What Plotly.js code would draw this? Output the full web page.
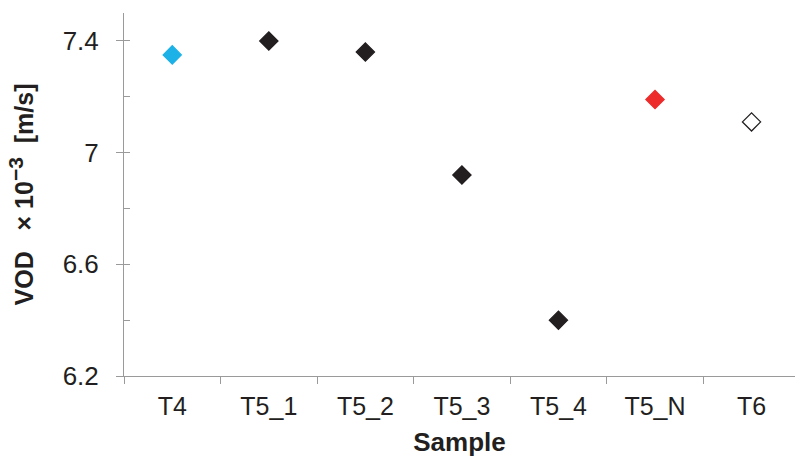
<!DOCTYPE html>
<html><head><meta charset="utf-8">
<script src="https://cdn.plot.ly/plotly-3.0.1.min.js"></script>
<style>body{margin:0;background:#fff}#c{width:795px;height:457px}</style>
</head><body><div id="c"></div>
<script>
const samples = ["T4","T5_1","T5_2","T5_3","T5_4","T5_N","T6"];
const vod = [7.35, 7.40, 7.36, 6.92, 6.40, 7.19, 7.11];
const fillColors = ["#1cb1e7","#231f20","#231f20","#231f20","#231f20","#ed2b2b","#ffffff"];
const lineColors = ["#1cb1e7","#231f20","#231f20","#231f20","#231f20","#ed2b2b","#231f20"];
const yTicks = [6.2, 6.6, 7, 7.4];

const txt = "#231f20", ax = "#9a9a9a", fam = "Liberation Sans, Arial, sans-serif";
const data = [{
  type: "scatter", mode: "markers", x: samples, y: vod,
  marker: {symbol: "diamond", size: 14, color: fillColors, line: {color: lineColors, width: 1.3}},
  cliponaxis: false, hoverinfo: "x+y"
}, {
  type: "scatter", mode: "markers", x: samples, y: vod, yaxis: "y2",
  marker: {opacity: 0}, hoverinfo: "skip", showlegend: false
}];
const ytitle = "<b>VOD\u00a0\u00a0\u00a0×\u00a010<sup><span style=\"font-size:21px\">−3</span></sup>\u00a0\u00a0[m/s]</b>";
const layout = {
  width: 795, height: 457, showlegend: false,
  margin: {l: 124, r: 0, t: 13, b: 81},
  paper_bgcolor: "#fff", plot_bgcolor: "#fff", font: {family: fam, size: 25, color: txt},
  xaxis: {
    type: "category", range: [-0.5, 6.45], tickson: "boundaries",
    ticks: "outside", ticklen: 7, tickcolor: ax, tickwidth: 1,
    showline: true, linecolor: ax, linewidth: 1, showgrid: false, zeroline: false,
    tickfont: {family: fam, size: 25, color: txt}, ticklabelstandoff: 8,
    title: {text: "<b>Sample</b>", font: {family: fam, size: 26, color: txt}, standoff: 14}
  },
  yaxis: {
    range: [6.2, 7.5], tickvals: yTicks, ticktext: yTicks.map(String),
    ticks: "outside", ticklen: 7, tickcolor: ax, tickwidth: 1,
    showline: true, linecolor: ax, linewidth: 1, showgrid: false, zeroline: false,
    tickfont: {family: fam, size: 26, color: txt}, ticklabelstandoff: 12,
    title: {text: ytitle, font: {family: fam, size: 25, color: txt}, standoff: 21}
  },
  yaxis2: {
    overlaying: "y", range: [6.2, 7.5], dtick: 0.2, tick0: 6.2,
    ticks: "inside", ticklen: 6, tickcolor: ax, tickwidth: 1,
    showticklabels: false, showgrid: false, zeroline: false, showline: false, side: "left"
  }
};
Plotly.newPlot("c", data, layout, {displayModeBar: false, staticPlot: true});
</script></body></html>
